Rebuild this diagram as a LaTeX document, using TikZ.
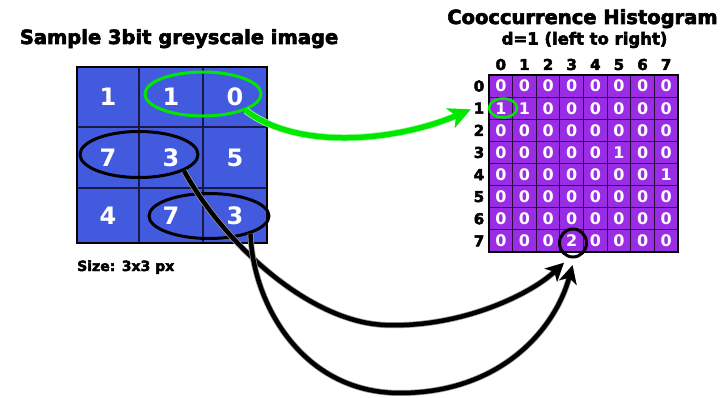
\documentclass[tikz,border=0pt]{standalone}
\usepackage{fontspec}
\setmainfont{DejaVu Sans}
\newfontfamily\heavyfont[FakeBold=3.2]{DejaVu Sans Bold}
\usetikzlibrary{arrows.meta,shapes.geometric}

\definecolor{pixblue}{RGB}{66,90,222}
\definecolor{histpurple}{RGB}{154,44,230}
\definecolor{pairgreen}{RGB}{0,232,0}
\definecolor{gridnavy}{RGB}{25,25,70}
\definecolor{gridplum}{RGB}{45,10,60}

\begin{document}
\begin{tikzpicture}[x=1pt,y=-1pt,
  headline/.style={font=\heavyfont\fontsize{19.5}{22}\selectfont, anchor=base, inner sep=0pt},
  subline/.style={font=\heavyfont\fontsize{16.5}{19}\selectfont, anchor=base, inner sep=0pt},
  sizeline/.style={font=\heavyfont\fontsize{14}{16}\selectfont, anchor=base west, inner sep=0pt},
  axislabel/.style={font=\heavyfont\fontsize{15}{16}\selectfont, inner sep=0pt},
  pixval/.style={font=\bfseries\fontsize{24}{26}\selectfont, text=white, inner sep=0pt},
  histval/.style={font=\bfseries\fontsize{16}{18}\selectfont, text=white, inner sep=0pt},
  pairring/.style={ellipse, draw=#1, line width=3pt, inner sep=0pt},
  greenlink/.style={draw=pairgreen, line width=5.5pt,
    preaction={draw=pairgreen!35, line width=7pt},
    -{Stealth[length=22pt,width=21pt,inset=6pt]}},
  blacklink/.style={draw=black, line width=4.5pt,
    preaction={draw=black!40, line width=6pt},
    -{Stealth[length=18pt,width=18pt,inset=5pt]}},
]
\useasboundingbox (0,0) rectangle (725,398);

% headings
\node[headline] (titleL) at (179,44) {Sample 3bit greyscale image};
\node[sizeline] (sizeL) at (77,271) {Size: 3x3 px};
\node[headline] (titleR) at (582.5,24) {Cooccurrence Histogram};
\node[subline] (subR) at (584.5,44.5) {d=1 (left to right)};

% 3x3 sample image
\fill[pixblue] (77,67) rectangle (267,243);
\draw[gridnavy, line width=1.2pt]
  (139,67) -- (139,243) (203,67) -- (203,243)
  (77,127) -- (267,127) (77,188) -- (267,188);
\draw[black, line width=2.5pt] (77,67) rectangle (267,243);

\node[pixval] (p00) at (108,97) {1};
\node[pixval] (p01) at (171,97) {1};
\node[pixval] (p02) at (235,97) {0};
\node[pixval] (p10) at (108,157.5) {7};
\node[pixval] (p11) at (171,157.5) {3};
\node[pixval] (p12) at (235,157.5) {5};
\node[pixval] (p20) at (108,215.5) {4};
\node[pixval] (p21) at (171,215.5) {7};
\node[pixval] (p22) at (235,215.5) {3};

% 8x8 co-occurrence table
\fill[histpurple] (489,75) rectangle (678,252);
\foreach \k in {1,...,7} {
  \draw[gridplum, line width=1pt] ({489+23.625*\k},75) -- ++(0,177);
  \draw[gridplum, line width=1pt] (489,{75+22.125*\k}) -- ++(189,0);
}
\draw[black, line width=2pt] (489,75) rectangle (678,252);

\foreach \rowvals [count=\r from 0] in {
    {0,0,0,0,0,0,0,0},{1,1,0,0,0,0,0,0},{0,0,0,0,0,0,0,0},{0,0,0,0,0,1,0,0},
    {0,0,0,0,0,0,0,1},{0,0,0,0,0,0,0,0},{0,0,0,0,0,0,0,0},{0,0,0,2,0,0,0,0}}
  \foreach \v [count=\c from 0] in \rowvals
    \node[histval] (h\r\c) at ({489+23.625*(\c+0.5)},{75+22.125*(\r+0.5)}) {\v};

\foreach \c in {0,...,7}
  \node[axislabel, anchor=base] (col\c) at ({489+23.625*(\c+0.5)},70) {\c};
\foreach \r in {0,...,7}
  \node[axislabel] (row\r) at (479,{75+22.125*(\r+0.5)}) {\r};

% pair markers
\node[pairring=pairgreen, minimum width=116pt, minimum height=44pt] (ringA) at (203,94) {};
\node[pairring=pairgreen, line width=2.5pt, minimum width=28pt, minimum height=19pt] (ringAh) at (503,108) {};
\node[pairring=black, minimum width=118pt, minimum height=46pt] (ringB) at (139,154.5) {};
\node[pairring=black, minimum width=120pt, minimum height=45pt] (ringC) at (209,216) {};
\node[pairring=black, minimum width=27pt, minimum height=28pt] (ringD) at (573,243) {};

% links from pixel pairs to table entries
\draw[greenlink, shorten >=3pt] (ringA.-21) .. controls (300,152) and (400,140) .. (row1.west);
\draw[blacklink, shorten >=7pt] (ringB.-20) .. controls (225,245) and (310,322) .. (385,325)
  .. controls (460,328) and (530,295) .. (ringD.-105);
\draw[blacklink, shorten >=7pt] (ringC.-23) .. controls (252,300) and (300,393) .. (400,393)
  .. controls (500,393) and (555,330) .. (ringD.-85);
\end{tikzpicture}
\end{document}
